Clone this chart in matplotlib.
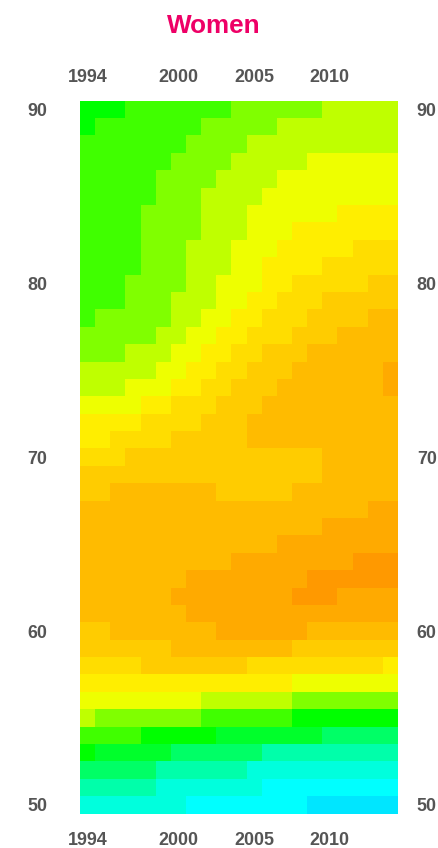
import matplotlib
matplotlib.use('Agg')
import matplotlib.pyplot as plt
import numpy as np
from matplotlib.colors import ListedColormap

years = np.arange(1994, 2015)
ages = np.arange(90, 49, -1)
year_ticks = [1994, 2000, 2005, 2010]
age_ticks = [50, 60, 70, 80, 90]

# colour band of each cell, lowest band first
band_names = "abcdeqfghijklmnop"
band_colors = ["#00E6FF", "#00FFFF", "#00FFDD", "#00FFAA", "#00FF66", "#00FF2B",
               "#00FF00", "#40FF00", "#80FF00", "#BFFF00", "#EEFF00", "#FFEE00",
               "#FFDD00", "#FFCC00", "#FFBB00", "#FFAA00", "#FF9900"]

# one row per age, from 90 down to 50, written as band + number of years
rows = [
    "f3 g7 h6 i5",
    "f1 g7 h5 i8",
    "g7 h4 i10",
    "g6 h4 i5 j6",
    "g5 h4 i4 j8",
    "g5 h3 i4 j9",
    "g4 h4 i3 j6 k4",
    "g4 h4 i3 j3 k7",
    "g4 h3 i3 j3 k5 l3",
    "g4 h3 i3 j2 k4 l5",
    "g3 h4 i2 j3 k2 l5 m2",
    "g3 h3 i3 j2 k2 l3 m5",
    "g1 h5 i2 j2 k2 l3 m4 n2",
    "h5 i2 j2 k2 l3 m3 n4",
    "h3 i3 j2 k2 l2 m3 n6",
    "i5 j2 k2 l2 m3 n6 o1",
    "i3 j3 k2 l2 m3 n7 o1",
    "j4 k2 l3 m3 n9",
    "k4 l4 m3 n10",
    "k2 l4 m5 n10",
    "l3 m13 n5",
    "m16 n5",
    "m2 n7 m5 n7",
    "n19 o2",
    "n16 o5",
    "n13 o8",
    "n10 o8 p3",
    "n7 o8 p6",
    "n6 o8 p3 o4",
    "n7 o14",
    "m2 n7 o6 n6",
    "m6 n8 m7",
    "l4 m7 l9 k1",
    "k14 j7",
    "j8 i6 h7",
    "i1 h7 g6 f7",
    "g4 f5 q7 e5",
    "f1 q5 e6 d9",
    "e5 d6 c10",
    "d5 c7 b9",
    "c7 b8 a6",
]


def expand_row(row):
    cells = []
    for run in row.split():
        cells += [band_names.index(run[0])] * int(run[1:])
    return cells


levels = np.array([expand_row(r) for r in rows])

plt.rcParams['font.family'] = ['Liberation Sans', 'DejaVu Sans']

W, H = 438, 848
fig = plt.figure(figsize=(W / 100, H / 100), dpi=100)
ax = fig.add_axes([80 / W, 1 - 813.6 / H, 318 / W, 712.9 / H])

cmap = ListedColormap(band_colors)
x_edges = np.append(years - 0.5, years[-1] + 0.5)
y_edges = np.append(ages + 0.5, ages[-1] - 0.5)
ax.pcolormesh(x_edges, y_edges, levels, cmap=cmap, vmin=-0.5, vmax=len(band_colors) - 0.5)

label_style = dict(fontsize=12.9, fontweight='bold', color='#555555')

ax.set_xticks(year_ticks)
ax.set_xticklabels(year_ticks, **label_style)
ax.set_yticks(age_ticks)
ax.set_yticklabels(age_ticks, **label_style)
ax.tick_params(axis='x', length=0, pad=13)
ax.tick_params(axis='y', length=0, pad=23.5)

# same labels on the other two sides, with their own gaps to the map
top = ax.secondary_xaxis('top')
top.set_xticks(year_ticks)
top.set_xticklabels(year_ticks, **label_style)
top.tick_params(axis='x', length=0, pad=10.5)

right = ax.secondary_yaxis('right')
right.set_yticks(age_ticks)
right.set_yticklabels(age_ticks, **label_style)
right.tick_params(axis='y', length=0, pad=13.5)

for a in [ax, top, right]:
    for side in a.spines.values():
        side.set_visible(False)

fig.text(214 / W, 1 - 26 / H, "Women", color='#EE0066', fontsize=18.8,
         fontweight='bold', ha='center', va='center')

fig.savefig('out.png', dpi=100)
